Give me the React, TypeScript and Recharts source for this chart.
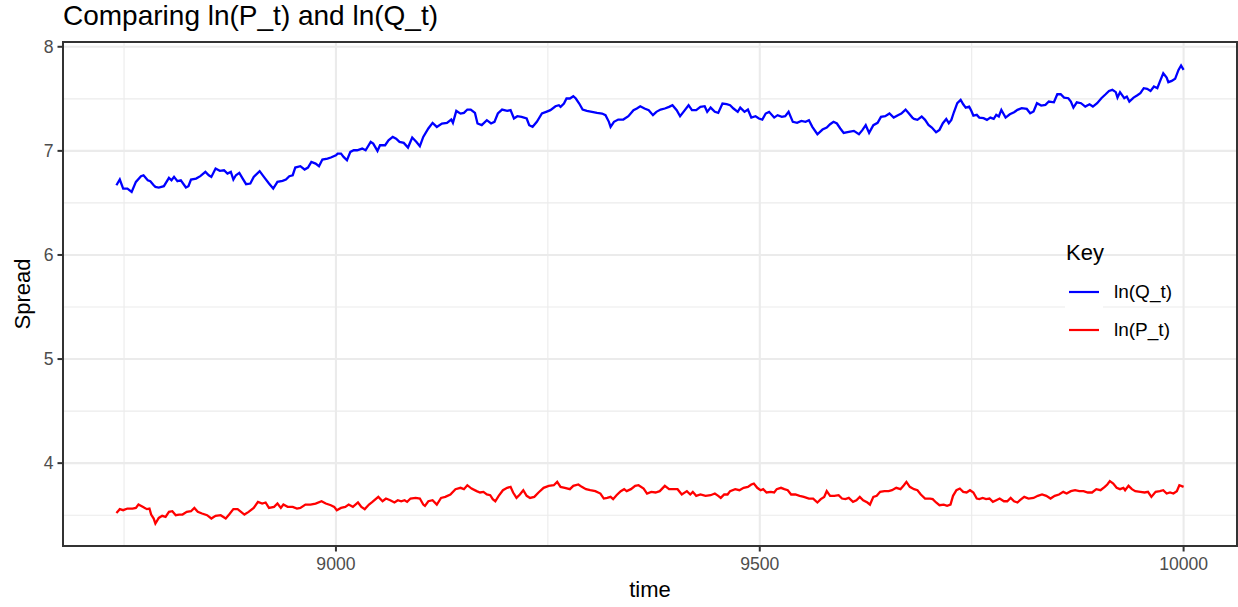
import { LineChart, Line, XAxis, YAxis, CartesianGrid, ReferenceArea, Legend } from 'recharts';

// ln(Q_t) series
const qTime = [
  8741, 8745, 8749, 8754, 8759, 8764, 8770, 8773, 8778, 8781, 8785, 8787, 8791, 8797, 8803, 8806, 8809, 8813, 8817, 8823,
  8826, 8829, 8835, 8840, 8846, 8850, 8853, 8858, 8863, 8868, 8872, 8876, 8879, 8882, 8886, 8890, 8894, 8899, 8903, 8910,
  8915, 8921, 8926, 8931, 8937, 8941, 8945, 8949, 8952, 8958, 8963, 8967, 8971, 8976, 8980, 8984, 8990, 8994, 9000, 9002,
  9006, 9009, 9013, 9017, 9021, 9025, 9031, 9035, 9041, 9044, 9049, 9052, 9058, 9062, 9067, 9071, 9075, 9080, 9085, 9090,
  9095, 9099, 9103, 9109, 9114, 9119, 9125, 9131, 9136, 9138, 9142, 9147, 9151, 9155, 9159, 9164, 9167, 9172, 9178, 9183,
  9187, 9191, 9196, 9202, 9206, 9210, 9214, 9219, 9225, 9228, 9232, 9237, 9243, 9248, 9253, 9259, 9263, 9265, 9269, 9272,
  9276, 9280, 9283, 9287, 9291, 9296, 9302, 9308, 9314, 9318, 9322, 9324, 9328, 9333, 9339, 9345, 9351, 9355, 9359, 9364,
  9369, 9374, 9378, 9383, 9388, 9393, 9397, 9402, 9406, 9410, 9416, 9420, 9425, 9430, 9435, 9438, 9442, 9447, 9451, 9456,
  9461, 9465, 9469, 9474, 9477, 9482, 9486, 9490, 9495, 9499, 9503, 9507, 9511, 9517, 9521, 9526, 9530, 9534, 9539, 9544,
  9549, 9554, 9558, 9562, 9568, 9574, 9579, 9583, 9587, 9591, 9595, 9599, 9605, 9611, 9617, 9621, 9625, 9629, 9634, 9639,
  9643, 9648, 9653, 9658, 9663, 9667, 9672, 9676, 9680, 9682, 9686, 9691, 9695, 9699, 9703, 9708, 9712, 9716, 9720, 9723,
  9726, 9729, 9733, 9737, 9740, 9743, 9747, 9749, 9752, 9756, 9759, 9764, 9768, 9772, 9776, 9779, 9782, 9785, 9790, 9795,
  9800, 9804, 9809, 9815, 9819, 9823, 9827, 9832, 9837, 9841, 9847, 9851, 9855, 9859, 9864, 9867, 9870, 9874, 9879, 9884,
  9889, 9893, 9898, 9903, 9908, 9912, 9916, 9920, 9922, 9925, 9930, 9933, 9936, 9941, 9945, 9949, 9953, 9957, 9961, 9965,
  9969, 9972, 9976, 9980, 9982, 9986, 9990, 9994, 9997, 10000,
];
const qValue = [
  6.670, 6.725, 6.638, 6.638, 6.606, 6.702, 6.757, 6.766, 6.718, 6.709, 6.670, 6.654, 6.648, 6.661, 6.741, 6.718, 6.750, 6.709, 6.718, 6.648,
  6.661, 6.725, 6.734, 6.757, 6.798, 6.766, 6.750, 6.830, 6.808, 6.814, 6.782, 6.798, 6.725, 6.766, 6.789, 6.734, 6.680, 6.686, 6.750, 6.805,
  6.750, 6.686, 6.638, 6.702, 6.712, 6.725, 6.757, 6.766, 6.840, 6.853, 6.821, 6.840, 6.894, 6.878, 6.853, 6.917, 6.926, 6.936, 6.958, 6.974,
  6.974, 6.942, 6.910, 6.990, 7.006, 7.006, 7.022, 7.006, 7.086, 7.070, 7.000, 7.054, 7.054, 7.102, 7.134, 7.118, 7.086, 7.077, 7.032, 7.128,
  7.086, 7.045, 7.134, 7.215, 7.269, 7.230, 7.263, 7.269, 7.301, 7.269, 7.384, 7.358, 7.365, 7.397, 7.397, 7.365, 7.263, 7.247, 7.295, 7.263,
  7.279, 7.359, 7.397, 7.384, 7.391, 7.311, 7.333, 7.327, 7.311, 7.247, 7.231, 7.279, 7.359, 7.375, 7.391, 7.429, 7.439, 7.423, 7.455, 7.503,
  7.503, 7.525, 7.503, 7.455, 7.397, 7.384, 7.375, 7.365, 7.359, 7.343, 7.279, 7.231, 7.279, 7.301, 7.301, 7.333, 7.391, 7.407, 7.429, 7.407,
  7.391, 7.343, 7.375, 7.397, 7.407, 7.423, 7.439, 7.391, 7.333, 7.375, 7.439, 7.391, 7.391, 7.423, 7.429, 7.375, 7.416, 7.375, 7.365, 7.455,
  7.449, 7.439, 7.407, 7.375, 7.416, 7.375, 7.397, 7.320, 7.333, 7.311, 7.301, 7.359, 7.375, 7.320, 7.343, 7.327, 7.333, 7.375, 7.279, 7.269,
  7.288, 7.279, 7.295, 7.231, 7.160, 7.205, 7.224, 7.256, 7.279, 7.263, 7.215, 7.173, 7.183, 7.192, 7.160, 7.199, 7.247, 7.173, 7.247, 7.269,
  7.327, 7.333, 7.359, 7.320, 7.343, 7.359, 7.397, 7.359, 7.320, 7.307, 7.298, 7.330, 7.298, 7.250, 7.224, 7.179, 7.202, 7.266, 7.307, 7.266,
  7.298, 7.371, 7.458, 7.490, 7.448, 7.416, 7.426, 7.394, 7.339, 7.346, 7.320, 7.314, 7.298, 7.320, 7.307, 7.346, 7.330, 7.394, 7.320, 7.352,
  7.371, 7.394, 7.410, 7.403, 7.362, 7.378, 7.458, 7.435, 7.442, 7.474, 7.467, 7.544, 7.544, 7.512, 7.506, 7.474, 7.416, 7.467, 7.458, 7.426,
  7.448, 7.426, 7.458, 7.506, 7.544, 7.576, 7.586, 7.564, 7.512, 7.564, 7.506, 7.522, 7.474, 7.512, 7.532, 7.554, 7.602, 7.596, 7.576, 7.618,
  7.602, 7.666, 7.746, 7.704, 7.660, 7.672, 7.692, 7.778, 7.820, 7.778,
];

// ln(P_t) series
const pTime = [
  8741, 8745, 8749, 8754, 8760, 8764, 8767, 8772, 8777, 8780, 8782, 8785, 8787, 8791, 8795, 8799, 8803, 8807, 8811, 8815,
  8819, 8824, 8829, 8833, 8837, 8842, 8848, 8853, 8858, 8864, 8870, 8874, 8879, 8884, 8888, 8892, 8897, 8903, 8908, 8913,
  8917, 8921, 8927, 8931, 8935, 8938, 8943, 8949, 8954, 8958, 8964, 8970, 8976, 8983, 8988, 8994, 8998, 9001, 9006, 9011,
  9015, 9020, 9026, 9030, 9034, 9039, 9043, 9050, 9055, 9059, 9064, 9069, 9073, 9077, 9081, 9084, 9088, 9094, 9099, 9103,
  9105, 9109, 9114, 9119, 9124, 9129, 9135, 9141, 9147, 9151, 9155, 9160, 9166, 9170, 9174, 9178, 9182, 9185, 9188, 9192,
  9197, 9202, 9206, 9209, 9213, 9217, 9221, 9225, 9229, 9234, 9239, 9245, 9251, 9257, 9261, 9265, 9270, 9276, 9280, 9286,
  9290, 9295, 9300, 9306, 9312, 9316, 9320, 9324, 9327, 9331, 9336, 9340, 9343, 9348, 9353, 9357, 9363, 9367, 9372, 9377,
  9382, 9388, 9393, 9399, 9403, 9408, 9414, 9418, 9421, 9425, 9430, 9436, 9442, 9447, 9451, 9454, 9458, 9462, 9465, 9471,
  9476, 9481, 9486, 9490, 9493, 9497, 9501, 9504, 9508, 9513, 9517, 9520, 9525, 9529, 9533, 9537, 9542, 9547, 9552, 9558,
  9563, 9568, 9572, 9576, 9579, 9583, 9588, 9593, 9597, 9601, 9605, 9610, 9614, 9618, 9622, 9627, 9630, 9634, 9638, 9642,
  9647, 9652, 9656, 9661, 9666, 9670, 9673, 9677, 9682, 9686, 9690, 9695, 9701, 9704, 9708, 9712, 9717, 9721, 9725, 9728,
  9732, 9736, 9740, 9744, 9748, 9752, 9756, 9759, 9763, 9767, 9771, 9775, 9779, 9783, 9788, 9792, 9796, 9800, 9804, 9807,
  9812, 9817, 9823, 9828, 9833, 9838, 9843, 9848, 9853, 9858, 9862, 9867, 9872, 9877, 9882, 9887, 9892, 9897, 9902, 9907,
  9910, 9913, 9917, 9921, 9925, 9929, 9931, 9935, 9939, 9943, 9949, 9954, 9958, 9962, 9967, 9972, 9976, 9980, 9984, 9988,
  9992, 9995, 10000,
];
const pValue = [
  3.522, 3.558, 3.548, 3.564, 3.564, 3.570, 3.602, 3.580, 3.558, 3.564, 3.506, 3.468, 3.420, 3.474, 3.494, 3.484, 3.532, 3.538, 3.500, 3.506,
  3.506, 3.532, 3.538, 3.570, 3.532, 3.516, 3.500, 3.468, 3.494, 3.500, 3.468, 3.506, 3.558, 3.558, 3.532, 3.506, 3.532, 3.570, 3.628, 3.612,
  3.622, 3.570, 3.580, 3.612, 3.570, 3.602, 3.580, 3.580, 3.564, 3.570, 3.602, 3.602, 3.612, 3.634, 3.612, 3.596, 3.580, 3.548, 3.570, 3.580,
  3.602, 3.580, 3.622, 3.580, 3.558, 3.602, 3.628, 3.676, 3.634, 3.660, 3.644, 3.622, 3.644, 3.634, 3.644, 3.628, 3.660, 3.666, 3.660, 3.602,
  3.590, 3.634, 3.644, 3.602, 3.666, 3.676, 3.699, 3.750, 3.763, 3.750, 3.788, 3.756, 3.731, 3.718, 3.724, 3.699, 3.692, 3.654, 3.634, 3.686,
  3.740, 3.763, 3.772, 3.718, 3.666, 3.699, 3.740, 3.686, 3.666, 3.676, 3.718, 3.763, 3.782, 3.788, 3.820, 3.772, 3.763, 3.750, 3.782, 3.795,
  3.772, 3.750, 3.740, 3.731, 3.708, 3.660, 3.666, 3.676, 3.654, 3.692, 3.731, 3.750, 3.731, 3.750, 3.782, 3.788, 3.756, 3.708, 3.724, 3.718,
  3.731, 3.782, 3.750, 3.750, 3.750, 3.699, 3.731, 3.699, 3.724, 3.686, 3.699, 3.686, 3.692, 3.708, 3.686, 3.666, 3.699, 3.699, 3.731, 3.750,
  3.740, 3.763, 3.772, 3.795, 3.804, 3.763, 3.740, 3.750, 3.718, 3.724, 3.718, 3.750, 3.763, 3.750, 3.740, 3.699, 3.699, 3.686, 3.676, 3.660,
  3.660, 3.622, 3.654, 3.676, 3.731, 3.686, 3.686, 3.692, 3.660, 3.654, 3.666, 3.628, 3.644, 3.676, 3.644, 3.622, 3.602, 3.676, 3.686, 3.724,
  3.731, 3.731, 3.740, 3.763, 3.750, 3.788, 3.820, 3.772, 3.750, 3.740, 3.699, 3.660, 3.660, 3.654, 3.622, 3.596, 3.602, 3.590, 3.602, 3.686,
  3.740, 3.756, 3.724, 3.718, 3.740, 3.718, 3.660, 3.654, 3.666, 3.654, 3.660, 3.628, 3.644, 3.660, 3.634, 3.634, 3.666, 3.634, 3.622, 3.644,
  3.676, 3.660, 3.666, 3.686, 3.699, 3.686, 3.660, 3.686, 3.699, 3.724, 3.708, 3.731, 3.740, 3.731, 3.731, 3.718, 3.718, 3.750, 3.740, 3.772,
  3.795, 3.827, 3.804, 3.763, 3.750, 3.763, 3.740, 3.782, 3.750, 3.731, 3.724, 3.718, 3.724, 3.676, 3.724, 3.731, 3.740, 3.708, 3.718, 3.708,
  3.731, 3.788, 3.772,
];

const xTicks = [9000, 9500, 10000];
const xMinor = [8750, 9250, 9750];
const yTicks = [4, 5, 6, 7, 8];
const yMinor = [3.5, 4.5, 5.5, 6.5, 7.5];

const keys = [
  { name: 'ln(Q_t)', color: '#0000FF' },
  { name: 'ln(P_t)', color: '#FF0000' },
];

const qData = qTime.map((t, i) => ({ t, v: qValue[i] }));
const pData = pTime.map((t, i) => ({ t, v: pValue[i] }));

const X_DOMAIN: [number, number] = [8678, 10063];
const Y_DOMAIN: [number, number] = [3.204, 8.046];
const FONT = '"Liberation Sans", Arial, Helvetica, sans-serif';

function KeyBox() {
  return (
    <svg width={180} height={130} style={{ fontFamily: FONT }}>
      <text x={16} y={30} fontSize={22} fill="#000">Key</text>
      {keys.map((k, i) => (
        <g key={k.name}>
          <rect x={15} y={44 + i * 38} width={38} height={36} fill="#fff" />
          <line x1={19} x2={49} y1={62 + i * 38} y2={62 + i * 38} stroke={k.color} strokeWidth={2.2} />
          <text x={64} y={68 + i * 38} fontSize={19} fill="#000">{k.name}</text>
        </g>
      ))}
    </svg>
  );
}

export default function App() {
  return (
    <div style={{ position: 'absolute', left: 0, top: 0, width: 1238, height: 607, background: '#fff', fontFamily: FONT }}>
      <div style={{ position: 'absolute', left: 63, top: 0, fontSize: 28, lineHeight: '32px', color: '#000', whiteSpace: 'nowrap' }}>
        Comparing ln(P_t) and ln(Q_t)
      </div>
      <LineChart width={1238} height={607} margin={{ top: 42, right: 1, bottom: 0, left: 0 }}>
        <CartesianGrid stroke="#EBEBEB" strokeWidth={1.1} horizontalValues={yMinor} verticalValues={xMinor} />
        <CartesianGrid stroke="#EBEBEB" strokeWidth={2.1} horizontalValues={yTicks} verticalValues={xTicks} />
        <XAxis
          type="number"
          dataKey="t"
          domain={X_DOMAIN}
          ticks={xTicks}
          allowDataOverflow
          height={61}
          axisLine={false}
          tickSize={5.5}
          tickMargin={6}
          tickLine={{ stroke: '#333333', strokeWidth: 2 }}
          tick={{ fill: '#4D4D4D', fontSize: 17.6, fontFamily: FONT }}
          label={{ value: 'time', position: 'insideBottom', offset: 10, fontSize: 22, fill: '#000', fontFamily: FONT }}
        />
        <YAxis
          type="number"
          domain={Y_DOMAIN}
          ticks={yTicks}
          allowDataOverflow
          width={63}
          axisLine={false}
          tickSize={5.5}
          tickMargin={4}
          tickLine={{ stroke: '#333333', strokeWidth: 2 }}
          tick={{ fill: '#4D4D4D', fontSize: 17.6, fontFamily: FONT }}
          label={{
            content: () => (
              <text x={30} y={294} transform="rotate(-90, 30, 294)" textAnchor="middle" fontSize={22} fill="#000" fontFamily={FONT}>
                Spread
              </text>
            ),
          }}
        />
        <Line data={qData} dataKey="v" name="ln(Q_t)" stroke="#0000FF" strokeWidth={2.3} dot={false} type="linear" isAnimationActive={false} />
        <Line data={pData} dataKey="v" name="ln(P_t)" stroke="#FF0000" strokeWidth={2.3} dot={false} type="linear" isAnimationActive={false} />
        <ReferenceArea x1={X_DOMAIN[0]} x2={X_DOMAIN[1]} y1={Y_DOMAIN[0]} y2={Y_DOMAIN[1]} fill="none" fillOpacity={0} stroke="#333333" strokeWidth={2} />
        <Legend
          layout="horizontal"
          verticalAlign="middle"
          align="center"
          content={() => <KeyBox />}
          wrapperStyle={{ left: 1050, top: 230, width: 180, height: 130 }}
        />
      </LineChart>
    </div>
  );
}
